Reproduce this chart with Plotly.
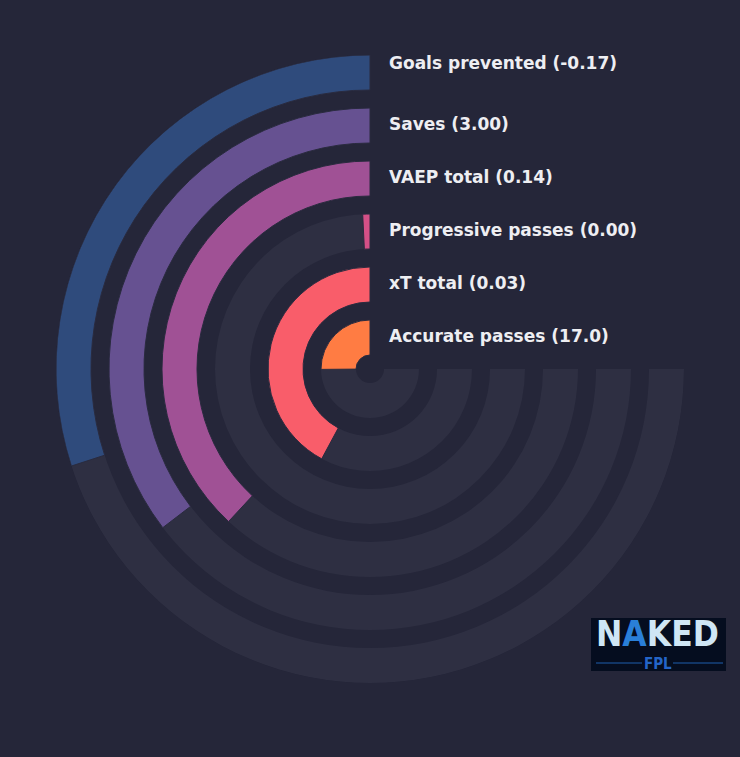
import plotly.graph_objects as go

# ---- data ----
metrics = ["Goals prevented", "Saves", "VAEP total", "Progressive passes", "xT total", "Accurate passes"]
value_labels = ["-0.17", "3.00", "0.14", "0.00", "0.03", "17.0"]
percentiles = [40, 47.2, 50.8, 1.0, 56.2, 33.5]   # share of the 270-degree track
colors = ["#2f4b7c", "#665191", "#a05195", "#d45087", "#f95d6a", "#ff7c43"]

W, H = 740, 757
BG = "#252639"
TRACK = "#2e2f42"
cx, cy, R = 370, 369, 314
ring_w = 35
ring_step = 53
label_y = [63, 124, 177, 230, 283, 336]

fig = go.Figure()
for i, (m, p, c) in enumerate(zip(metrics, percentiles, colors)):
    outer = R - i * ring_step
    inner = outer - ring_w
    # background track (270 degrees)
    fig.add_trace(go.Barpolar(
        r=[ring_w], base=[inner], theta=[135], width=[270],
        marker=dict(color=TRACK, line=dict(width=0)),
        hoverinfo="skip", showlegend=False))
for i, (m, p, c) in enumerate(zip(metrics, percentiles, colors)):
    outer = R - i * ring_step
    inner = outer - ring_w
    ang = p / 100 * 270
    fig.add_trace(go.Barpolar(
        r=[ring_w], base=[inner], theta=[ang / 2], width=[ang],
        marker=dict(color=c, line=dict(color="#2a2b3f", width=1)),
        name=m, showlegend=False))

annotations = []
for m, v, y in zip(metrics, value_labels, label_y):
    annotations.append(dict(
        x=387 / W, y=1 - y / H, xref="paper", yref="paper",
        xanchor="left", yanchor="middle", showarrow=False,
        text=f"<b>{m} ({v})</b>",
        font=dict(family="DejaVu Sans", size=17, color="#eeeef2")))

# logo
annotations.append(dict(
    x=657 / W, y=1 - 634 / H, xref="paper", yref="paper",
    xanchor="center", yanchor="middle", showarrow=False,
    text="<b>N<span style='color:#2a7fd8'>A</span>KED</b>",
    font=dict(family="DejaVu Sans Condensed", size=35, color="#cfe6f5")))
annotations.append(dict(
    x=658 / W, y=1 - 664 / H, xref="paper", yref="paper",
    xanchor="center", yanchor="middle", showarrow=False,
    text="<b>FPL</b>",
    font=dict(family="DejaVu Sans Condensed", size=15, color="#2465c8")))

shapes = [
    dict(type="rect", xref="paper", yref="paper",
         x0=591 / W, x1=726 / W, y0=1 - 671 / H, y1=1 - 618 / H,
         fillcolor="#050d1f", line=dict(width=0), layer="below"),
    dict(type="line", xref="paper", yref="paper",
         x0=596 / W, x1=642 / W, y0=1 - 663 / H, y1=1 - 663 / H,
         line=dict(color="#1f5fae", width=1)),
    dict(type="line", xref="paper", yref="paper",
         x0=673 / W, x1=723 / W, y0=1 - 663 / H, y1=1 - 663 / H,
         line=dict(color="#1f5fae", width=1)),
]

fig.update_layout(
    width=W, height=H,
    paper_bgcolor=BG, plot_bgcolor=BG,
    margin=dict(l=0, r=0, t=0, b=0),
    polar=dict(
        domain=dict(x=[(cx - R) / W, (cx + R) / W], y=[1 - (cy + R) / H, 1 - (cy - R) / H]),
        bgcolor="rgba(0,0,0,0)",
        radialaxis=dict(range=[0, R], visible=False),
        angularaxis=dict(rotation=90, direction="counterclockwise", visible=False),
        barmode="overlay",
    ),
    annotations=annotations,
    shapes=shapes,
)

fig.write_html(
    "out.html",
    config={"displayModeBar": False},
    post_script="document.body.style.margin='0';document.body.style.background='#252639';document.body.style.overflow='hidden';",
)
